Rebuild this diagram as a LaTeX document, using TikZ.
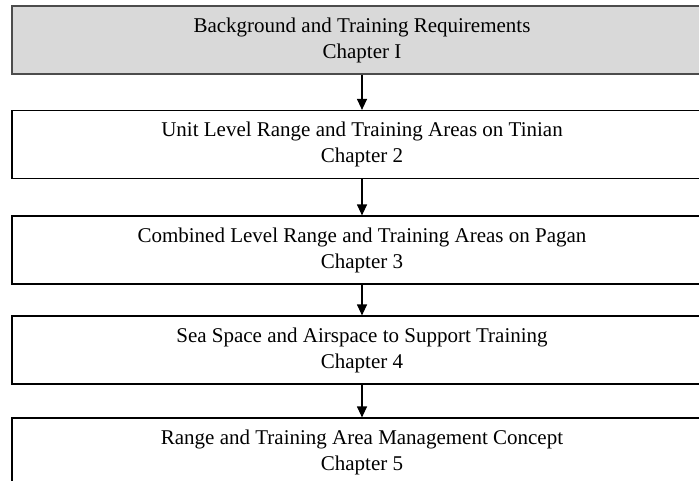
\documentclass[tikz,border=0pt]{standalone}
\usepackage{fontspec}
\setmainfont{Liberation Serif}
\usetikzlibrary{arrows.meta}
\tikzset{
  chapbox/.style={draw=black, line width=1.2pt, fill=white, minimum width=700pt,
    minimum height=68pt, align=center, inner sep=0pt,
    font=\fontsize{21}{26}\selectfont},
  firstbox/.style={chapbox, draw=black!70, line width=1.6pt, fill=black!15},
  flow/.style={-{Triangle[width=10pt,length=11pt]}, line width=1.2pt}
}
\begin{document}
\begin{tikzpicture}[x=1pt,y=-1pt]
    \useasboundingbox (0,0) rectangle (699,480);
    \node[firstbox] (ch1) at (362,40) {Background and Training Requirements\\Chapter I};
    \node[chapbox] (ch2) at (362,144.5) {Unit Level Range and Training Areas on Tinian\\Chapter 2};
    \node[chapbox] (ch3) at (362,250) {Combined Level Range and Training Areas on Pagan\\Chapter 3};
    \node[chapbox] (ch4) at (362,350) {Sea Space and Airspace to Support Training\\Chapter 4};
    \node[chapbox] (ch5) at (362,452) {Range and Training Area Management Concept\\Chapter 5};
    \draw[flow] (ch1) -- (ch2);
    \draw[flow] (ch2) -- (ch3);
    \draw[flow] (ch3) -- (ch4);
    \draw[flow] (ch4) -- (ch5);
\end{tikzpicture}
\end{document}
